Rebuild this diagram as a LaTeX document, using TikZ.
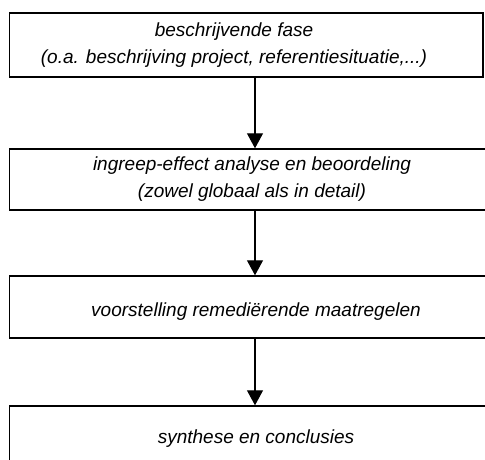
\documentclass[tikz,border=0pt]{standalone}
\usepackage{fontspec}
\setmainfont{Liberation Sans}
\usepackage{tikz}
\usetikzlibrary{arrows.meta,positioning}
\tikzset{
  stepbox/.style={draw=black,line width=1.4pt,inner sep=0pt},
  steptxt/.style={font=\fontsize{19}{27}\selectfont\itshape,align=center,inner sep=0pt},
  flow/.style={line width=1.1pt,-{Triangle[length=15pt,width=16pt]}}
}

\begin{document}
\begin{tikzpicture}[x=1pt,y=-1pt]
  \useasboundingbox (0,0) rectangle (485,459);
  \clip (0,0) rectangle (485,459);
  % boxes
  \node[stepbox,minimum width=473.5pt,minimum height=64pt] (box1) at (246.25,45) {};
  \node[stepbox,minimum width=491pt,minimum height=61pt] (box2) at (255,179.5) {};
  \node[stepbox,minimum width=491pt,minimum height=62pt] (box3) at (255,307) {};
  \node[stepbox,minimum width=491pt,minimum height=66pt] (box4) at (255,439) {};
  % labels
  \node[steptxt] (txt1) at (234,45) {beschrijvende fase\\(o.a. beschrijving project, referentiesituatie,...)};
  \node[steptxt] (txt2) at (252,179) {ingreep-effect analyse en beoordeling\\(zowel globaal als in detail)};
  \node[steptxt] (txt3) at (256,312) {voorstelling remedi\"erende maatregelen};
  \node[steptxt] (txt4) at (256,439) {synthese en conclusies};
  % arrows
  \draw[flow] (box1.south -| box2.north) -- (box2.north);
  \draw[flow] (box2.south) -- (box3.north);
  \draw[flow] (box3.south) -- (box4.north);
\end{tikzpicture}
\end{document}
